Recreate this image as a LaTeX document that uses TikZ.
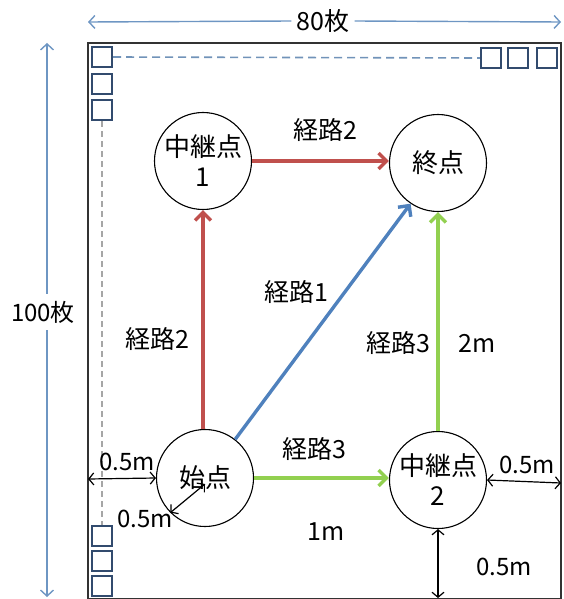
\documentclass[tikz,border=0pt]{standalone}
\usepackage{fontspec}
\setmainfont{Noto Sans CJK JP}
\usetikzlibrary{arrows.meta}
\definecolor{cred}{RGB}{192,80,77}
\definecolor{cblue}{RGB}{79,129,189}
\definecolor{cgreen}{RGB}{146,208,80}
\definecolor{csq}{RGB}{50,75,110}
\definecolor{cdim}{RGB}{110,150,195}
\tikzset{
  pt/.style={circle,draw=black,line width=1.1pt,minimum size=97pt,inner sep=0pt,align=center,font=\fontsize{26}{30}\selectfont},
  lbl/.style={font=\fontsize{25}{30}\selectfont,inner sep=1pt},
  dlbl/.style={font=\fontsize{24}{28}\selectfont,inner sep=1pt},
  route/.style={line width=3.4pt,-{Straight Barb[length=8pt,width=16pt,line width=3.4pt]}},
  dim/.style={line width=1.2pt,{Straight Barb[length=5pt,width=12pt]}-{Straight Barb[length=5pt,width=12pt]}},
  bigdimA/.style={cdim,line width=1.4pt,{Straight Barb[length=6pt,width=13pt]}-},
  bigdimB/.style={cdim,line width=1.4pt,-{Straight Barb[length=6pt,width=13pt]}},
  sq/.style={draw=csq,line width=2.2pt,minimum size=20pt,inner sep=0pt},
  dsh/.style={cdim!85!gray,line width=1.6pt,dash pattern=on 8pt off 5pt},
  dshv/.style={gray!70,line width=1.2pt,dash pattern=on 6pt off 4pt}
}
\begin{document}
\begin{tikzpicture}[x=1pt,y=-1pt]
\useasboundingbox (0,0) rectangle (564,599);
% frame
\draw[line width=1.6pt,black!80] (88,43) rectangle (561,599);
% dimension arrows outside
\coordinate (tl) at (88,22); \coordinate (tr) at (561,22);
\node[lbl,inner sep=5pt] (w) at (323,21) {80枚};
\draw[bigdimA] (tl) -- (w.west);
\draw[bigdimB] (w.east) -- (tr);
\coordinate (lt) at (47,43); \coordinate (lb) at (47,597);
\node[dlbl,inner sep=7pt] (h) at (43,312) {100枚};
\draw[bigdimA] (lt) -- (lt |- h.north);
\draw[bigdimB] (lb |- h.south) -- (lb);
% squares
\node[sq] (s1) at (102,57) {};
\node[sq] (s2) at (102,84) {};
\node[sq] (s3) at (102,110) {};
\node[sq] (r1) at (491,58) {};
\node[sq] (r2) at (518,58) {};
\node[sq] (r3) at (547,58) {};
\node[sq] (b1) at (102,536) {};
\node[sq] (b2) at (102,561) {};
\node[sq] (b3) at (102,586) {};
\draw[dsh] (s1.east) -- (r1.west);
\draw[dshv] (s3.south) -- (b1.north);
% circles
\node[pt] (start) at (205,478) {始点};
\node[pt] (r1n) at (203,161) {中継点\\1};
\node[pt] (goal) at (438,163) {終点};
\node[pt] (r2n) at (438,480) {中継点\\2};
% routes
\draw[route,cred] (start.north -| r1n) -- (r1n.south);
\draw[route,cred] (r1n.east) -- (r1n.east -| goal.west);
\draw[route,cblue] (start.52) -- (goal.236);
\draw[route,cgreen] (start.east) -- (start.east -| r2n.west);
\draw[route,cgreen] (r2n.north) -- (goal.south);
% labels
\node[lbl] at (325,130) {経路2};
\node[lbl] at (157,339) {経路2};
\node[lbl] at (296,292) {経路1};
\node[lbl] at (398,343) {経路3};
\node[lbl] at (477,343) {2m};
\node[lbl] at (314,449) {経路3};
\node[lbl] at (326,532) {1m};
% dimension arrows
\coordinate (fl) at (88,479);
\draw[dim] (fl) -- (start.west);
\node[dlbl] at (127,462) {0.5m};
\coordinate (sc) at (205,484);
\draw[dim] (start.225) -- (sc);
\node[dlbl] at (145,519) {0.5m};
\coordinate (fr) at (561,483);
\draw[dim] (r2n.east) -- (fr);
\node[dlbl] at (527,465) {0.5m};
\coordinate (fb) at (438,598);
\draw[dim] (r2n.south) -- (fb);
\node[dlbl] at (504,567) {0.5m};
\end{tikzpicture}
\end{document}
